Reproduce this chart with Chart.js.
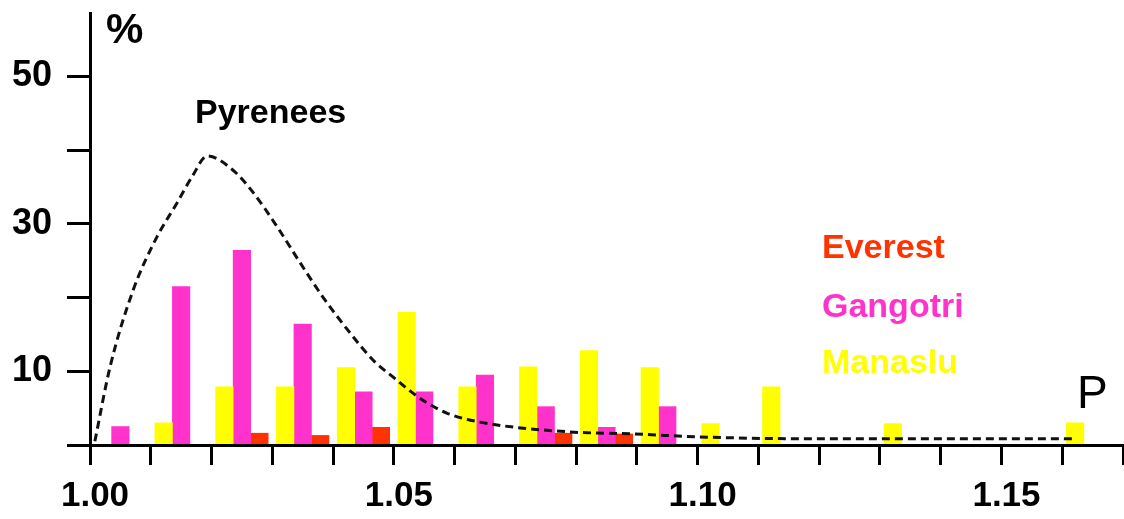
<!DOCTYPE html>
<html>
<head>
<meta charset="utf-8">
<script src="https://cdn.jsdelivr.net/npm/chart.js@4.4.1/dist/chart.umd.min.js"></script>
<style>
  body { margin: 0; background: #fff; }
  #wrap { width: 1124px; height: 519px; }
</style>
</head>
<body>
<div id="wrap"><canvas id="chart"></canvas></div>
<script>
// bins of P, 0.01 wide (left edge of each bin)
const bins = ['1.00', '1.01', '1.02', '1.03', '1.04', '1.05', '1.06', '1.07', '1.08',
  '1.09', '1.10', '1.11', '1.12', '1.13', '1.14', '1.15', '1.16'];
const binWidth = 0.01;

// % per bin
const manaslu = [null, 3.0, 7.9, 7.9, 10.5, 18.0, 7.9, 10.6, 12.8, 10.5, 2.9, 7.9, null, 2.9, null, null, 3.0];
const gangotri = [2.5, 21.5, 26.4, 16.4, 7.2, 7.2, 9.5, 5.2, 2.4, 5.2, null, null, null, null, null, null, null];
const everest = [null, null, 1.6, 1.3, 2.4, null, null, 1.6, 1.5, null, null, null, null, null, null, null, null];

// Pyrenees curve
const pyreneesX = [1.0008, 1.0033, 1.0071, 1.011, 1.0143, 1.0168, 1.0193, 1.0235, 1.0268, 1.0308,
  1.0346, 1.0383, 1.0428, 1.0466, 1.0499, 1.0532, 1.0555, 1.0588, 1.0642, 1.0785, 1.0894,
  1.1003, 1.1169, 1.1621];
const pyreneesY = [0.5, 10.6, 21, 28.2, 32.8, 36.4, 39.2, 37.3, 34.3, 29.6,
  24.7, 20.1, 15.2, 11.5, 9.2, 7.0, 5.7, 4.3, 3.1, 1.8, 1.5,
  1.1, 0.85, 0.85];

const xTicks = bins.map(Number).concat([1.17]);
const xTickLabels = ['1.00', '1.05', '1.10', '1.15'];
const yTicks = [0, 10, 20, 30, 40, 50];
const yTickLabels = [10, 30, 50];

const seriesNames = ['Everest', 'Gangotri', 'Manaslu'];
const seriesColors = ['#ff3300', '#ff33cc', '#ffff00'];

const family = "'Liberation Sans', Arial, sans-serif";

// bar sits in the middle of its bin on the linear P axis
function binPoints(values) {
  return bins.map((b, i) => ({ x: Number(b) + binWidth / 2, y: values[i] }));
}

// free text drawn on top of the chart
const notes = {
  id: 'notes',
  afterDraw(chart) {
    const ctx = chart.ctx;
    ctx.save();
    ctx.textBaseline = 'alphabetic';
    ctx.textAlign = 'left';

    ctx.fillStyle = '#000';
    ctx.font = 'bold 42px ' + family;
    ctx.fillText('%', 106, 43);

    ctx.font = 'bold 34px ' + family;
    ctx.fillText('Pyrenees', 195, 123);

    const baselines = [258, 317, 373];
    seriesNames.forEach((name, i) => {
      ctx.fillStyle = seriesColors[i];
      ctx.fillText(name, 822, baselines[i]);
    });

    ctx.fillStyle = '#000';
    ctx.font = '46px ' + family;
    ctx.fillText('P', 1077, 408);
    ctx.restore();
  }
};

// grouped: Manaslu left, Gangotri middle, Everest right
const barStyle = { barThickness: 17.5, order: 1 };

new Chart(document.getElementById('chart'), {
  type: 'bar',
  data: {
    datasets: [
      Object.assign({ label: 'Manaslu', data: binPoints(manaslu), backgroundColor: seriesColors[2] }, barStyle),
      Object.assign({ label: 'Gangotri', data: binPoints(gangotri), backgroundColor: seriesColors[1] }, barStyle),
      Object.assign({ label: 'Everest', data: binPoints(everest), backgroundColor: seriesColors[0] }, barStyle),
      {
        type: 'line',
        label: 'Pyrenees',
        data: pyreneesX.map((x, i) => ({ x: x, y: pyreneesY[i] })),
        borderColor: '#111',
        borderWidth: 3,
        borderDash: [8, 5],
        pointRadius: 0,
        cubicInterpolationMode: 'monotone',
        fill: false,
        order: 0
      }
    ]
  },
  options: {
    responsive: true,
    maintainAspectRatio: false,
    animation: false,
    layout: { padding: { top: 13, right: 1, left: 0, bottom: 0 } },
    plugins: { legend: { display: false }, tooltip: { enabled: false } },
    scales: {
      x: {
        type: 'linear',
        position: 'bottom',
        min: 1.0,
        max: 1.17,
        offset: false,
        afterBuildTicks: s => { s.ticks = xTicks.map(v => ({ value: v })); },
        afterFit: s => { s.height = 74; s.paddingLeft = 0; s.paddingRight = 0; },
        grid: { offset: false, drawOnChartArea: false, drawTicks: true, tickLength: 20, tickWidth: 3, tickColor: '#000' },
        border: { display: true, color: '#000', width: 3, z: 1 },
        ticks: {
          autoSkip: false,
          maxRotation: 0,
          padding: 10,
          labelOffset: 5,
          color: '#000',
          font: { family: family, size: 35, weight: 'bold' },
          callback: v => xTickLabels.includes(v.toFixed(2)) ? v.toFixed(2) : ''
        }
      },
      y: {
        min: 0,
        max: 58.6,
        afterBuildTicks: s => { s.ticks = yTicks.map(v => ({ value: v })); },
        afterFit: s => { s.width = 90; s.paddingTop = 0; s.paddingBottom = 0; },
        grid: { drawOnChartArea: false, drawTicks: true, tickLength: 23, tickWidth: 3, tickColor: '#000' },
        border: { display: true, color: '#000', width: 3, z: 1 },
        ticks: {
          padding: 15,
          color: '#000',
          font: { family: family, size: 36, weight: 'bold' },
          callback: v => yTickLabels.includes(v) ? String(v) : ''
        }
      }
    }
  },
  plugins: [notes]
});
</script>
</body>
</html>
